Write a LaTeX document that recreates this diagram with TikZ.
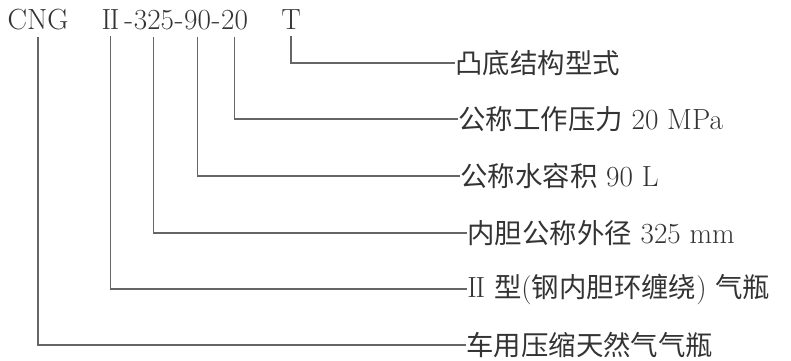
\documentclass[tikz,border=0pt]{standalone}
\usepackage{fontspec}
\newfontfamily\cjk[Scale=0.94]{Noto Sans CJK SC}
\usetikzlibrary{positioning}
\newcommand{\romtwo}{I\kern-0.7pt I}
\tikzset{
  code/.style={anchor=base, inner xsep=0pt, inner ysep=4pt, text=black!80},
  lab/.style={anchor=west, inner sep=0pt, text=black!80},
  lead/.style={black!60, line width=0.6pt},
}
\begin{document}
\begin{tikzpicture}[x=0.02cm, y=-0.02cm, font=\fontsize{16.6}{19}\selectfont]
    \useasboundingbox (0,0) rectangle (791,360);

    % Model code
    \node[code] (cng) at (38,29) {CNG};
    \node[code] (ii) at (110.5,29) {\romtwo};
    \node[code, anchor=base west] (h1) at (124,29) {-};
    \node[code, base right=0pt of h1] (dia) {325};
    \node[code, base right=0pt of dia] (h2) {-};
    \node[code, base right=0pt of h2] (vol) {90};
    \node[code, base right=0pt of vol] (h3) {-};
    \node[code, base right=0pt of h3] (pres) {20};
    \node[code] (bot) at (291,29) {T};

    % Meanings
    \node[lab] (lbot) at (455,63) {\cjk 凸底结构型式};
    \node[lab] (lpres) at (458,119) {{\cjk 公称工作压力} 20 MPa};
    \node[lab] (lvol) at (460,176) {{\cjk 公称水容积} 90 L};
    \node[lab] (ldia) at (467,233) {{\cjk 内胆公称外径} 325 mm};
    \node[lab] (lii) at (467,289) {\romtwo\ {\cjk 型}({\cjk 钢内胆环缠绕}) {\cjk 气瓶}};
    \node[lab] (lcng) at (466,345) {\cjk 车用压缩天然气气瓶};

    % Leaders
    \draw[lead] (bot.south) |- (lbot.west);
    \draw[lead] (pres.south) |- (lpres.west);
    \draw[lead] (vol.south) |- (lvol.west);
    \draw[lead] (dia.south) |- (ldia.west);
    \draw[lead] (ii.south) |- (lii.west);
    \draw[lead] (cng.south) |- (lcng.west);
\end{tikzpicture}
\end{document}
